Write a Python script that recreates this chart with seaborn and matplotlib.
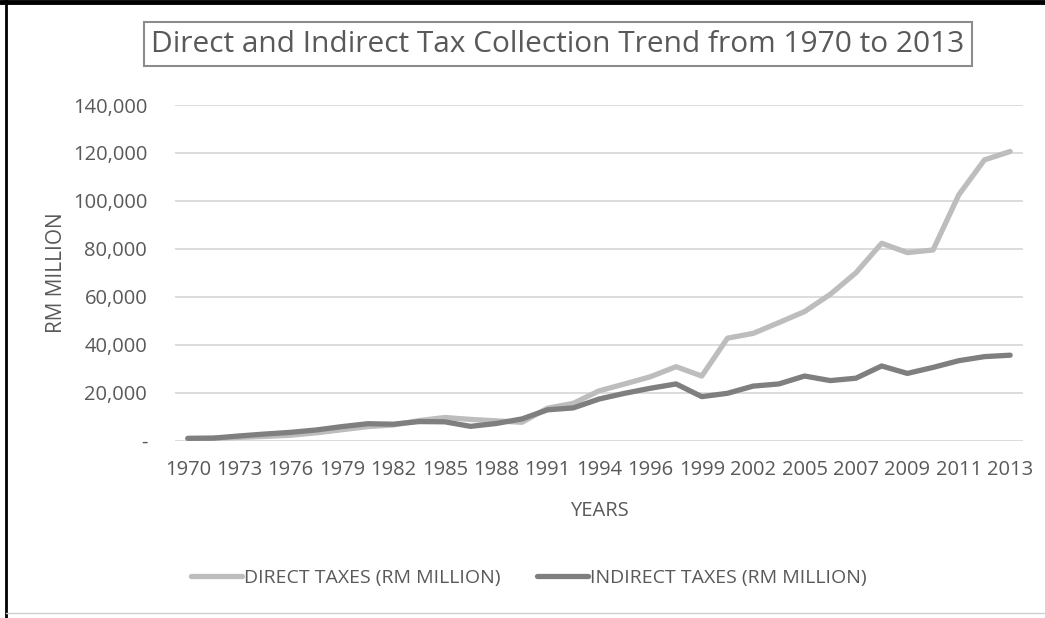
import matplotlib
matplotlib.use("Agg")
import matplotlib.pyplot as plt
from matplotlib.lines import Line2D
from matplotlib.ticker import FuncFormatter
import seaborn as sns
import pandas as pd
import numpy as np

# ---- data ----
tick_labels = ["1970", "1973", "1976", "1979", "1982", "1985", "1988", "1991", "1994",
               "1996", "1999", "2002", "2005", "2007", "2009", "2011", "2013"]
direct_taxes = [800, 900, 1300, 1700, 2200, 3200, 4500, 5800, 6500, 8300, 9600,
                8800, 8200, 7600, 13500, 15500, 20700, 23600, 26600, 30800, 26900,
                42700, 44700, 49200, 53800, 61000, 70000, 82300, 78400, 79500,
                102500, 117100, 120600]
indirect_taxes = [900, 1000, 1900, 2700, 3400, 4400, 5800, 7000, 6800, 7900, 7800,
                  5900, 7100, 9000, 12800, 13600, 17300, 19700, 21800, 23600, 18300,
                  19700, 22700, 23600, 26900, 25000, 26000, 31100, 28000, 30500,
                  33300, 35000, 35600]
series_names = ["DIRECT TAXES (RM MILLION)", "INDIRECT TAXES (RM MILLION)"]
series_colors = ["#bdbdbd", "#7f7f7f"]

n = len(direct_taxes)
idx = list(range(n))
df = pd.DataFrame({
    "pos": idx * 2,
    "value": direct_taxes + indirect_taxes,
    "series": [series_names[0]] * n + [series_names[1]] * n,
})

sns.set_theme(style="white")
FONT = "Open Sans"
plt.rcParams["font.family"] = [FONT, "DejaVu Sans"]
TXT = "#595959"

fig = plt.figure(figsize=(10.45, 6.18), dpi=100)
ax = fig.add_axes([175 / 1045, 1 - 440.5 / 618, (1023 - 175) / 1045, (440.5 - 105) / 618])

sns.lineplot(data=df, x="pos", y="value", hue="series", palette=series_colors,
             hue_order=series_names, linewidth=3.8, ax=ax, legend=False,
             solid_capstyle="round", solid_joinstyle="round")

ax.set_xlim(-0.5, n - 0.5)
ax.set_ylim(0, 140000)
ax.set_yticks(np.arange(0, 140001, 20000))
ax.yaxis.set_major_formatter(FuncFormatter(lambda v, p: "-" if v == 0 else f"{int(v):,}"))
ax.set_xticks(list(range(0, n, 2)))
ax.set_xticklabels(tick_labels)
ax.grid(axis="y", color="#d9d9d9", linewidth=1.3)
ax.grid(axis="x", visible=False)
ax.set_axisbelow(True)
for s in ax.spines.values():
    s.set_visible(False)
ax.tick_params(axis="both", length=0, labelsize=14.5, colors=TXT)
ax.xaxis.set_tick_params(pad=14)
ax.yaxis.set_tick_params(pad=20)
ax.set_xlabel("YEARS", fontsize=14.5, color=TXT, labelpad=15)
ax.set_ylabel("RM MILLION", fontsize=15, color=TXT, labelpad=4)

# title with box
fig.text(558 / 1045, 1 - 44 / 618, "Direct and Indirect Tax Collection Trend from 1970 to 2013",
         ha="center", va="center", fontsize=21.5, color=TXT,
         bbox=dict(boxstyle="square,pad=0.25", facecolor="white", edgecolor="#8c8c8c", linewidth=1.5))

# legend
handles = [Line2D([0], [0], color=c, lw=3.8, solid_capstyle="round") for c in series_colors]
fig.legend(handles, series_names, loc="center", bbox_to_anchor=(529 / 1045, 1 - 578 / 618),
           ncol=2, frameon=False, fontsize=14, handlelength=2.6, handletextpad=0.1,
           columnspacing=1.9, labelcolor=TXT)

# outer frame lines
fig.add_artist(Line2D([0, 1], [1 - 2 / 618, 1 - 2 / 618], color="black", lw=3.5, transform=fig.transFigure))
fig.add_artist(Line2D([6 / 1045, 6 / 1045], [0, 1], color="black", lw=2, transform=fig.transFigure))
fig.add_artist(Line2D([6 / 1045, 1], [5 / 618, 5 / 618], color="#d0d0d0", lw=1, transform=fig.transFigure))

fig.savefig("out.png", dpi=100)
